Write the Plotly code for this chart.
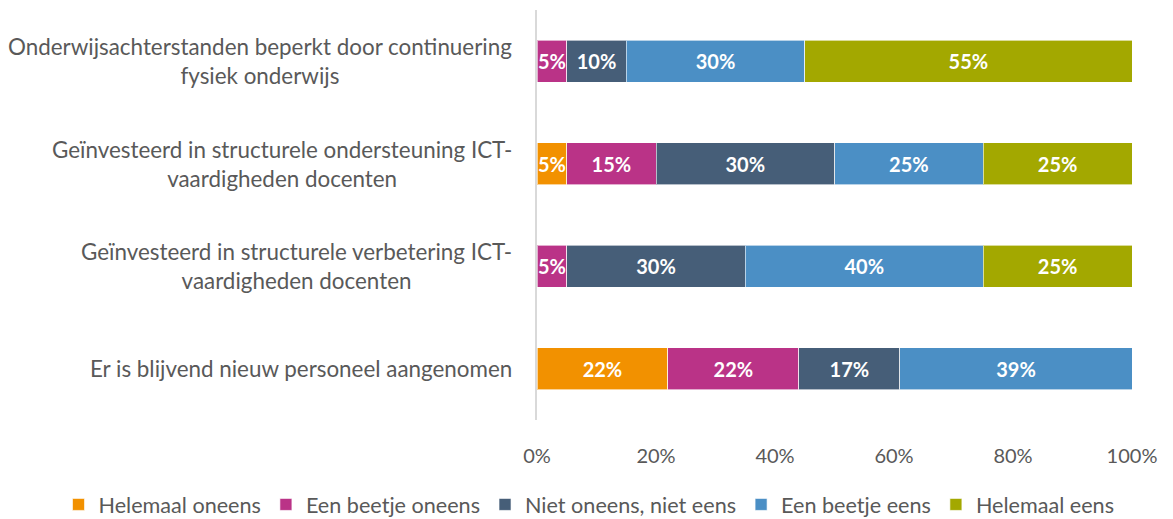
import plotly.graph_objects as go

categories = [
    "Onderwijsachterstanden beperkt door continuering<br>fysiek onderwijs",
    "Geïnvesteerd in structurele ondersteuning ICT-<br>vaardigheden docenten",
    "Geïnvesteerd in structurele verbetering ICT-<br>vaardigheden docenten",
    "Er is blijvend nieuw personeel aangenomen",
]
series_names = [
    "Helemaal oneens",
    "Een beetje oneens",
    "Niet oneens, niet eens",
    "Een beetje eens",
    "Helemaal eens",
]
helemaal_oneens = [0, 5, 0, 22]
beetje_oneens = [5, 15, 5, 22]
neutraal = [10, 30, 30, 17]
beetje_eens = [30, 25, 40, 39]
helemaal_eens = [55, 25, 25, 0]
tick_vals = [0, 20, 40, 60, 80, 100]
tick_text = ["0%", "20%", "40%", "60%", "80%", "100%"]

colors = ["#F29100", "#BA3387", "#465E78", "#4B8FC5", "#A3A800"]
values = [helemaal_oneens, beetje_oneens, neutraal, beetje_eens, helemaal_eens]

FONT = "Lato"
W, H = 1173, 519
M_L, M_R, M_T, M_B = 0, 41, 10, 99
PLOT_W = W - M_L - M_R
X_START = 537 / PLOT_W  # bars start here, category labels sit to the left

fig = go.Figure()
for name, vals, col in zip(series_names, values, colors):
    fig.add_trace(go.Bar(
        y=categories,
        x=vals,
        name=name,
        orientation="h",
        marker=dict(color=col, line=dict(color="rgba(255,255,255,0.6)", width=1)),
        text=[f"{v}%" if v else "" for v in vals],
        textposition="inside",
        insidetextanchor="middle",
        textangle=0,
        textfont=dict(family=FONT, size=20, color="white", weight="bold"),
        hoverinfo="skip",
    ))

for cat in categories:
    fig.add_annotation(
        x=X_START, xref="paper", y=cat, yref="y",
        xanchor="right", xshift=-23,
        text=cat, align="center", showarrow=False,
        font=dict(family=FONT, size=22.4, color="#595959"),
    )

fig.update_layout(
    width=W, height=H,
    margin=dict(l=M_L, r=M_R, t=M_T, b=M_B, autoexpand=False),
    barmode="stack",
    bargap=0.59,
    plot_bgcolor="white",
    paper_bgcolor="white",
    uniformtext=dict(minsize=20, mode="show"),
    xaxis=dict(
        domain=[X_START, 1],
        range=[0, 100], tickvals=tick_vals, ticktext=tick_text,
        showgrid=False, zeroline=False, showline=False,
        ticks="", ticklabelstandoff=22,
        tickfont=dict(family=FONT, size=20, color="#595959"),
        fixedrange=True,
    ),
    yaxis=dict(
        autorange="reversed", showticklabels=False,
        showgrid=False, zeroline=False,
        showline=True, linecolor="#D9D9D9", linewidth=2,
        ticks="", fixedrange=True,
    ),
    legend=dict(
        orientation="h", traceorder="normal",
        xref="paper", x=589 / PLOT_W, xanchor="center",
        yref="paper", y=-0.207, yanchor="middle",
        font=dict(family=FONT, size=21.6, color="#595959"),
        itemwidth=30,
    ),
    showlegend=True,
)

fig.write_html("out.html")
